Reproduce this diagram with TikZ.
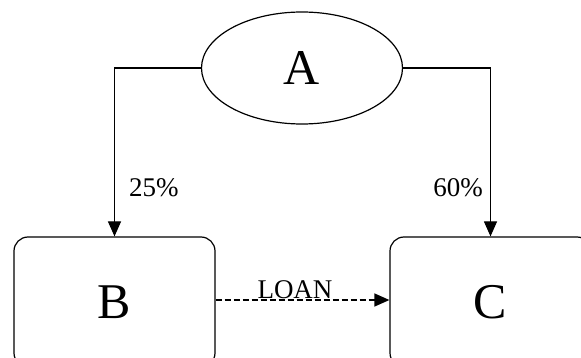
\documentclass[tikz,border=0pt]{standalone}
\usepackage{fontspec}
\setmainfont{Liberation Serif}
\usetikzlibrary{shapes.geometric,arrows.meta}
\tikzset{
  big/.style={font=\fontsize{50}{60}\selectfont},
  small/.style={font=\fontsize{27}{32}\selectfont, inner sep=0pt},
  boxnode/.style={draw, line width=1.2pt, rounded corners=14pt, minimum width=201pt, minimum height=130pt, inner sep=0pt, big},
  conn/.style={line width=1.2pt, -{Triangle[length=15pt,width=13pt]}},
}
\begin{document}
\begin{tikzpicture}[x=1pt,y=-1pt]
\useasboundingbox (0,0) rectangle (581,358);
\node[draw, ellipse, line width=1.2pt, minimum width=201pt, minimum height=112pt, inner sep=0pt, big] (A) at (302,68) {A};
\node[boxnode] (B) at (114.5,302) {B};
\node[boxnode] (C) at (490.5,302) {C};
\draw[conn] (A.west) -| (B.north);
\draw[conn] (A.east) -| (C.north);
\draw[conn, dash pattern=on 6pt off 3pt] (B.east |- 0,300) -- (C.west |- 0,300);
\node[small, anchor=base west] (l1) at (129,197) {25\%};
\node[small, anchor=base east] (l2) at (483,197) {60\%};
\node[small, anchor=base] (l3) at (295,298) {LOAN};
\end{tikzpicture}
\end{document}
